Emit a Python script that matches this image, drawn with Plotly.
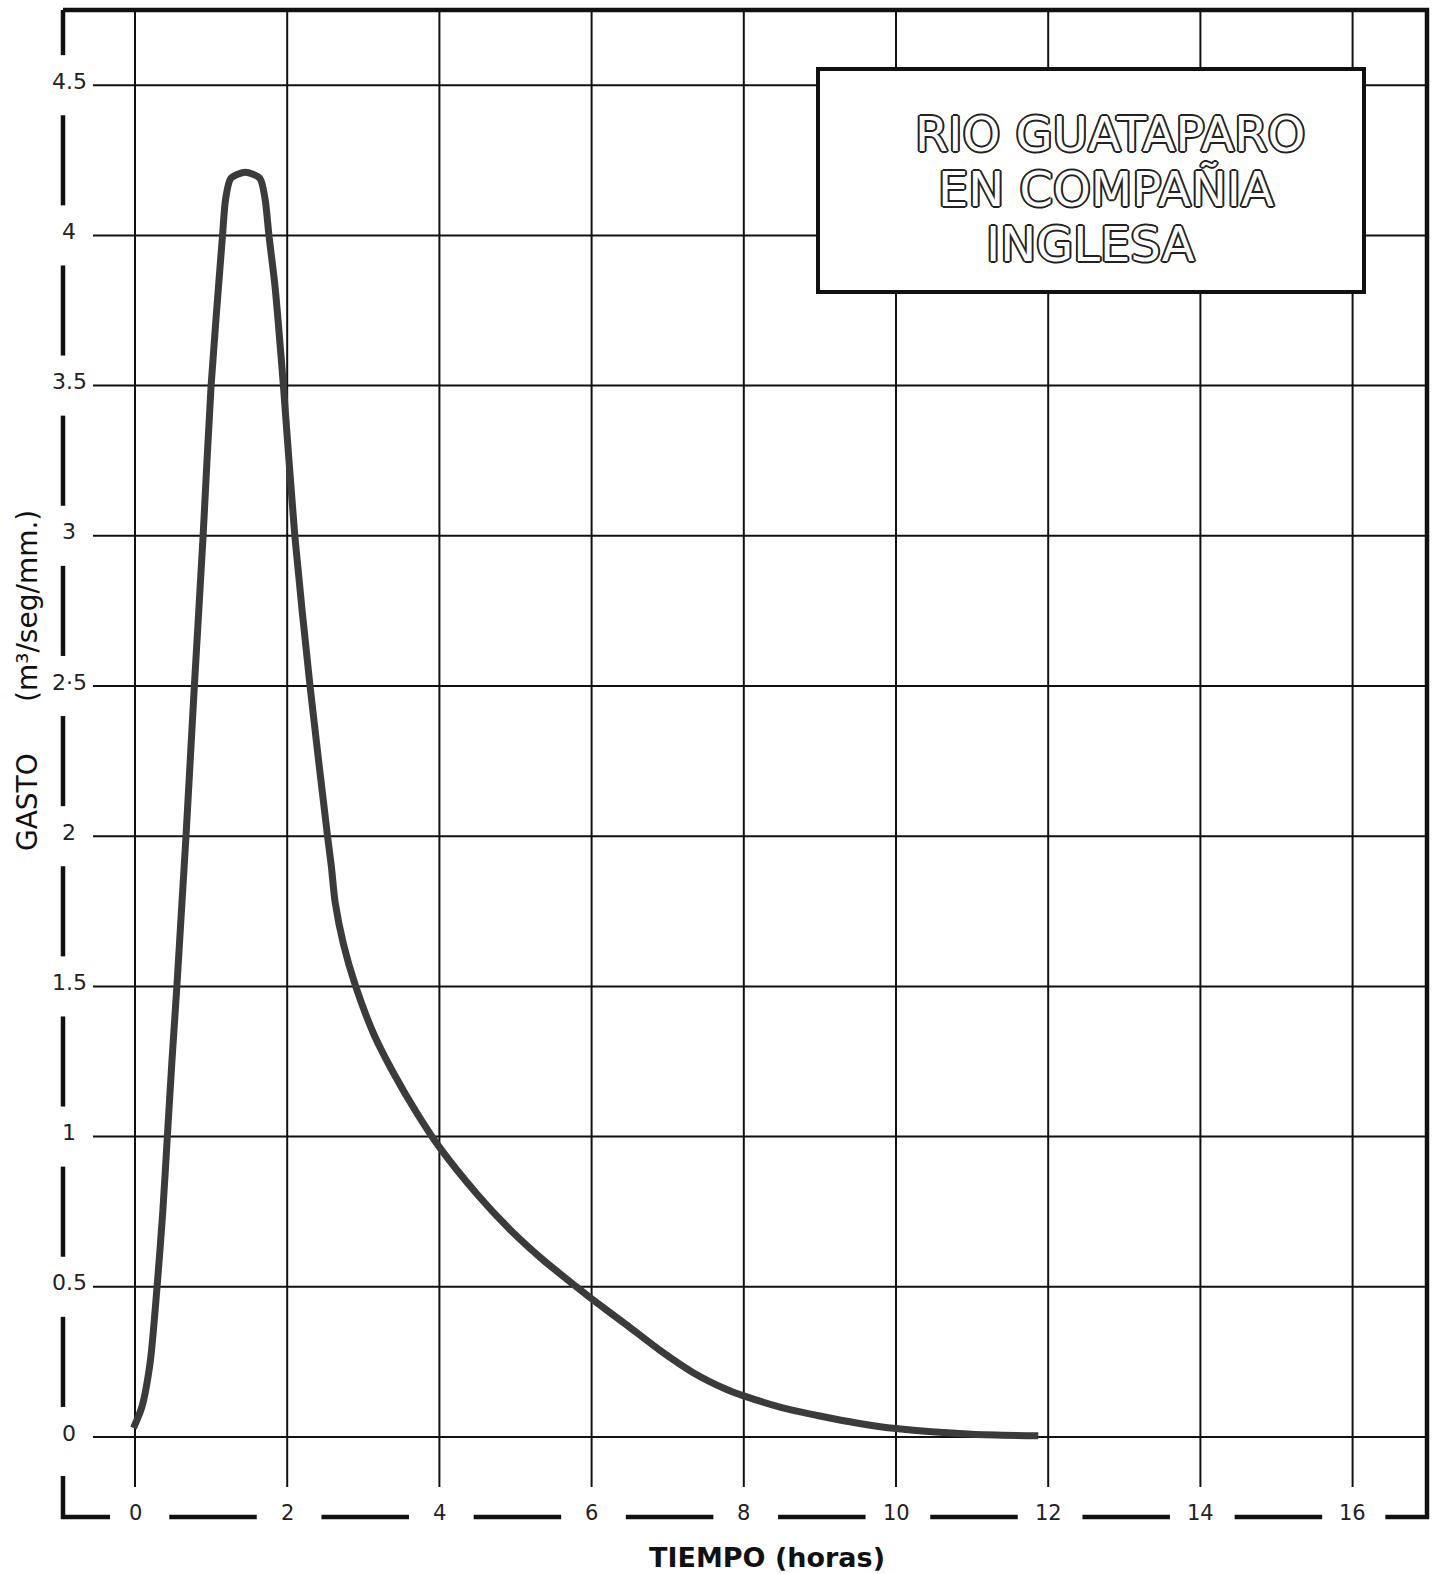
import plotly.graph_objects as go

# ---------------- data ----------------
tiempo_h = [-0.02, 0.09, 0.20, 0.29, 0.365, 0.425, 0.485, 0.55, 0.61, 0.67, 0.78, 0.895, 1.0,
            1.15, 1.19, 1.26, 1.45, 1.64, 1.71, 1.76, 1.84, 1.95, 2.10, 2.30, 2.53, 2.58,
            2.63, 2.74, 2.90, 3.14, 3.40, 3.70, 4.00, 4.49, 4.93, 5.36, 5.80, 6.00, 6.45,
            6.89, 7.33, 7.76, 8.00, 8.50, 9.00, 9.50, 10.0, 11.0, 11.87]
gasto = [0.03, 0.10, 0.25, 0.50, 0.75, 1.00, 1.25, 1.50, 1.75, 2.00, 2.50, 3.00, 3.50,
         4.00, 4.12, 4.19, 4.21, 4.19, 4.12, 4.00, 3.83, 3.50, 3.00, 2.50, 2.00, 1.90,
         1.78, 1.64, 1.50, 1.34, 1.21, 1.08, 0.965, 0.81, 0.69, 0.59, 0.50, 0.46, 0.375,
         0.29, 0.215, 0.16, 0.137, 0.098, 0.07, 0.046, 0.028, 0.009, 0.004]

x_ticks = [0, 2, 4, 6, 8, 10, 12, 14, 16]
x_tick_labels = ["0", "2", "4", "6", "8", "10", "12", "14", "16"]
y_ticks = [0, 0.5, 1, 1.5, 2, 2.5, 3, 3.5, 4, 4.5]
y_tick_labels = ["0", "0.5", "1", "1.5", "2", "2·5", "3", "3.5", "4", "4.5"]

title_lines = ["RIO GUATAPARO", "EN COMPAÑIA", "INGLESA"]
x_title = "TIEMPO (horas)"
y_title_parts = ["GASTO", "(m³/seg/mm.)"]

# ---------------- geometry (pixel based layout) ----------------
W, H = 1441, 1574
X0_PX, PX_PER_H = 135.0, 76.1      # pixel of t=0, pixels per hour
Y0_PX, PX_PER_U = 1437.0, 300.4    # pixel of q=0, pixels per unit


def dx(px):
    return (px - X0_PX) / PX_PER_H


def dy(py):
    return (Y0_PX - py) / PX_PER_U


XL, XR = dx(63), dx(1427)
YT, YB = dy(10), dy(1517)
INK = "#111111"

shapes = []
# grid lines
for v in y_ticks:
    shapes.append(dict(type="line", xref="x", yref="y", x0=dx(93), x1=XR, y0=v, y1=v,
                       line=dict(color=INK, width=2), layer="below"))
for t in x_ticks:
    shapes.append(dict(type="line", xref="x", yref="y", x0=t, x1=t, y0=dy(1487), y1=YT,
                       line=dict(color=INK, width=2), layer="below"))

# frame: top + right + last bottom piece
shapes.append(dict(type="path", xref="x", yref="y",
                   path=f"M {XL},{YT} L {XR},{YT} L {XR},{YB} L {x_ticks[-1] + 0.43},{YB}",
                   line=dict(color=INK, width=4.5), layer="above"))
# left dashed border (broken by labels)
step = y_ticks[1] - y_ticks[0]
for v in y_ticks[:-1]:
    shapes.append(dict(type="line", xref="x", yref="y", x0=XL, x1=XL,
                       y0=v + 0.1, y1=v + step - 0.1, line=dict(color=INK, width=4.5)))
shapes.append(dict(type="line", xref="x", yref="y", x0=XL, x1=XL, y0=y_ticks[-1] + 0.1, y1=YT,
                   line=dict(color=INK, width=4.5)))
# bottom-left L corner
shapes.append(dict(type="path", xref="x", yref="y",
                   path=f"M {XL},{-0.13} L {XL},{YB} L {dx(110)},{YB}",
                   line=dict(color=INK, width=4.5)))
# bottom dashed border
for t in x_ticks[:-1]:
    shapes.append(dict(type="line", xref="x", yref="y", x0=t + 0.45, x1=t + 1.6, y0=YB, y1=YB,
                       line=dict(color=INK, width=4.5)))

# title box
shapes.append(dict(type="rect", xref="x", yref="y", x0=dx(818), x1=dx(1364),
                   y0=dy(292), y1=dy(69), fillcolor="white",
                   line=dict(color=INK, width=4), layer="above"))

annotations = []
for v, lab in zip(y_ticks, y_tick_labels):
    annotations.append(dict(x=dx(69), y=v, xref="x", yref="y", text=lab, showarrow=False,
                            yshift=4, font=dict(family="DejaVu Sans", size=22, color="#222"),
                            bgcolor="white"))
for t, lab in zip(x_ticks, x_tick_labels):
    annotations.append(dict(x=t, y=dy(1513), xref="x", yref="y", text=lab, showarrow=False,
                            font=dict(family="DejaVu Sans", size=21, color="#222"),
                            bgcolor="white"))

annotations.append(dict(x=dx(767), y=dy(1557), xref="x", yref="y", text=x_title,
                        showarrow=False,
                        font=dict(family="DejaVu Sans", size=27, color="#111", weight="bold")))
for py, part in zip([802, 606], y_title_parts):
    annotations.append(dict(x=dx(27), y=dy(py), xref="x", yref="y", text=part,
                            showarrow=False, textangle=-90,
                            font=dict(family="DejaVu Sans", size=28, color="#111")))

outline = ("2px 0 0 #222, -2px 0 0 #222, 0 2px 0 #222, 0 -2px 0 #222, "
           "1.4px 1.4px 0 #222, -1.4px -1.4px 0 #222, 1.4px -1.4px 0 #222, -1.4px 1.4px 0 #222")
for (px, py), line in zip([(1110, 134), (1106, 189), (1090, 244)], title_lines):
    annotations.append(dict(x=dx(px), y=dy(py), xref="x", yref="y", text=line,
                            showarrow=False,
                            font=dict(family="DejaVu Sans", size=48, color="white",
                                      shadow=outline)))

fig = go.Figure()
fig.add_trace(go.Scatter(x=tiempo_h, y=gasto, mode="lines",
                         line=dict(color="#3b3b3b", width=7, shape="spline", smoothing=0.7),
                         hoverinfo="skip", showlegend=False))

fig.update_layout(
    width=W, height=H,
    margin=dict(l=0, r=0, t=0, b=0),
    paper_bgcolor="white", plot_bgcolor="white",
    xaxis=dict(range=[dx(0), dx(W)], visible=False, fixedrange=True),
    yaxis=dict(range=[dy(H), dy(0)], visible=False, fixedrange=True),
    shapes=shapes, annotations=annotations,
    showlegend=False,
)

fig.write_html("out.html")
